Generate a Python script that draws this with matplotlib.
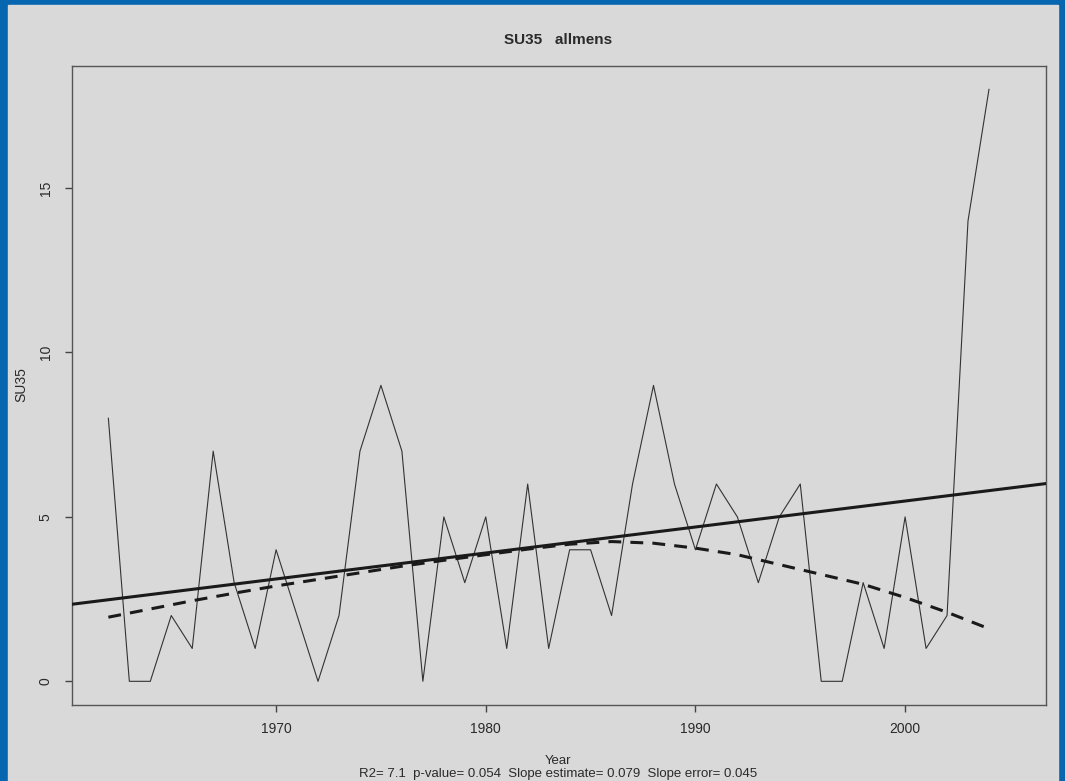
import matplotlib
matplotlib.use("Agg")
import matplotlib.pyplot as plt
import numpy as np

plt.rcParams["font.family"] = ["Liberation Sans", "DejaVu Sans"]

# annual SU35 counts
years = list(range(1962, 2005))
su35 = [8, 0, 0, 2, 1, 7, 3, 1, 4, 2,
        0, 2, 7, 9, 7, 0, 5, 3, 5, 1,
        6, 1, 4, 4, 2, 6, 9, 6, 4, 6,
        5, 3, 5, 6, 0, 0, 3, 1, 5, 1,
        2, 14, 18]

# smoothed curve (loess) sampled every two years
smooth_years = [1962, 1964, 1966, 1968, 1970, 1972, 1974, 1976, 1978, 1980, 1982,
                1984, 1986, 1988, 1990, 1992, 1994, 1996, 1998, 2000, 2002, 2004]
smooth_vals = [1.95, 2.2, 2.45, 2.68, 2.9, 3.1, 3.3, 3.5, 3.68, 3.85, 4.02,
               4.17, 4.25, 4.2, 4.05, 3.85, 3.55, 3.25, 2.95, 2.55, 2.1, 1.6]

r2 = 7.1
p_value = 0.054
slope = 0.079
slope_err = 0.045

BG = "#d9d9d9"
BLUE = "#0766b0"
INK = "#2a2a2a"

W, H = 1065, 781
fig = plt.figure(figsize=(W / 100, H / 100), dpi=100, facecolor=BLUE)
# gray panel inside the blue frame, kept behind the axes
fig.patches.append(plt.Rectangle((8 / W, 0), (W - 15) / W, (H - 5) / H,
                                 transform=fig.transFigure, color=BG, zorder=-5))

ax = fig.add_axes([72.3 / W, 1 - 705 / H, (1046 - 72.3) / W, (705 - 65.7) / H])
ax.set_facecolor(BG)

x = np.array(years, dtype=float)
y = np.array(su35, dtype=float)

ax.plot(x, y, color="#333333", lw=0.8, zorder=2)
ax.axline((x.mean(), y.mean()), slope=slope, color="#1a1a1a", lw=2.2, zorder=3)
ax.plot(smooth_years, smooth_vals, color="#1a1a1a", lw=2.2,
        dashes=(4.2, 3.0), zorder=3)

ax.set_xlim(1962 - 1.72, 2005 + 1.72)
ax.set_ylim(-0.72, 18.72)
ax.set_xticks([1970, 1980, 1990, 2000])
ax.set_yticks([0, 5, 10, 15])

for s in ax.spines.values():
    s.set_color("#555555")
    s.set_linewidth(1.0)

ax.tick_params(axis="both", direction="out", length=5, width=1.0,
               color="#444444", labelcolor=INK, labelsize=10)
ax.tick_params(axis="x", pad=7)
ax.tick_params(axis="y", pad=9)
for lab in ax.get_yticklabels():
    lab.set_rotation(90)
    lab.set_va("center")

fig.text(558 / W, 1 - 40 / H, "SU35   allmens", ha="center", va="center",
         fontsize=11, fontweight="bold", color=INK)
fig.text(21 / W, 1 - 385 / H, "SU35", ha="center", va="center",
         rotation=90, fontsize=10, color=INK)
fig.text(558 / W, 1 - 761 / H, "Year", ha="center", va="center",
         fontsize=9.5, color=INK)
fig.text(558 / W, 1 - 774 / H,
         f"R2= {r2}  p-value= {p_value}  Slope estimate= {slope}  Slope error= {slope_err}",
         ha="center", va="center", fontsize=9.5, color=INK)

fig.savefig("out.png", dpi=100, facecolor=BLUE)
